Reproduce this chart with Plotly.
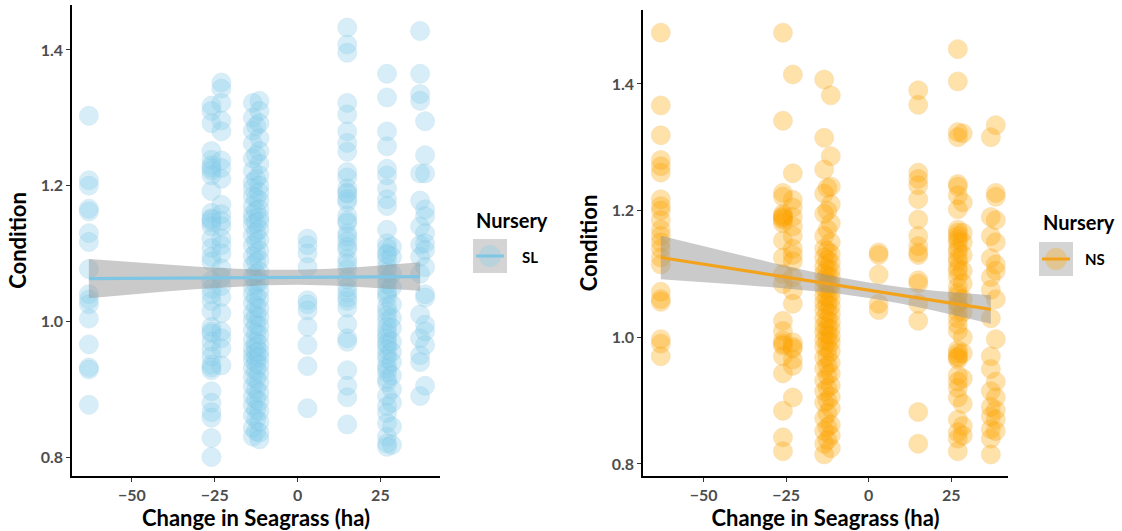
import plotly.graph_objects as go

# ---------------- data ----------------
# SL panel: Condition values per seagrass-change site
sl_m63 = [1.303, 1.208, 1.200, 1.166, 1.162, 1.130, 1.117, 1.077, 1.040, 1.032, 1.025, 1.004, 0.966, 0.932, 0.929, 0.877]
sl_m26 = [1.318, 1.310, 1.292, 1.251, 1.238, 1.230, 1.222, 1.215, 1.192, 1.160, 1.152, 1.146, 1.140, 1.122, 1.108,
          1.095, 1.088, 1.060, 1.048, 1.040, 1.030, 1.015, 0.992, 0.982, 0.970, 0.958, 0.948, 0.936, 0.928, 0.897,
          0.880, 0.866, 0.858, 0.828, 0.800, 1.226, 1.150, 0.985, 0.932]
sl_m23 = [1.352, 1.343, 1.322, 1.296, 1.280, 1.237, 1.226, 1.210, 1.172, 1.158, 1.148, 1.140, 1.122, 1.112, 1.100,
          1.078, 1.065, 1.052, 1.036, 1.012, 0.985, 0.975, 0.960, 0.935]
sl_m13 = [1.322, 1.300, 1.281, 1.262, 1.240, 1.222, 1.205, 1.196, 1.184, 1.170, 1.158, 1.151, 1.142, 1.127, 1.112,
          1.096, 1.083, 1.066, 1.051, 1.040, 1.027, 1.012, 1.001, 0.987, 0.972, 0.960, 0.951, 0.943, 0.931, 0.918,
          0.904, 0.889, 0.876, 0.861, 0.843, 0.830]
sl_m12 = [1.288, 1.245, 1.210, 1.182, 1.163, 1.145, 1.131, 1.117, 1.101, 1.087, 1.070, 1.055, 1.036, 1.022, 1.008,
          0.995, 0.983, 0.970, 0.962, 0.954, 0.946, 0.939, 0.928, 0.915, 0.900, 0.885, 0.870, 0.856, 0.838]
sl_m11 = [1.325, 1.310, 1.292, 1.270, 1.251, 1.232, 1.215, 1.200, 1.190, 1.178, 1.165, 1.153, 1.147, 1.135, 1.120,
          1.104, 1.090, 1.073, 1.058, 1.045, 1.033, 1.019, 1.006, 0.993, 0.980, 0.966, 0.955, 0.947, 0.936, 0.924,
          0.910, 0.895, 0.882, 0.868, 0.852, 0.836, 0.826]
sl_p3 = [1.122, 1.112, 1.100, 1.080, 1.031, 1.025, 1.016, 0.992, 0.965, 0.934, 0.872]
sl_p15 = [1.433, 1.408, 1.396, 1.322, 1.305, 1.280, 1.263, 1.250, 1.220, 1.212, 1.196, 1.188, 1.176, 1.156, 1.148,
          1.130, 1.118, 1.106, 1.092, 1.077, 1.062, 1.042, 1.030, 1.020, 0.996, 0.975, 0.970, 0.928, 0.905, 0.888, 0.848,
          1.190, 1.180, 1.145, 1.125, 1.110, 1.085, 1.050, 1.035]
sl_p27 = [1.365, 1.330, 1.280, 1.258, 1.225, 1.215, 1.196, 1.180, 1.170, 1.135, 1.115, 1.100, 1.090, 1.080, 1.062,
          1.040, 1.035, 1.015, 1.000, 0.985, 0.975, 0.965, 0.950, 0.935, 0.925, 0.910, 0.890, 0.875, 0.865, 0.850,
          0.830, 0.820, 0.815, 1.108, 1.098, 1.072, 1.055, 1.045, 1.022, 1.008, 0.992, 0.980, 0.968, 0.958, 0.945,
          0.930, 0.915]
sl_p28 = [1.110, 1.095, 1.070, 1.050, 1.025, 1.005, 0.990, 0.970, 0.955, 0.940, 0.920, 0.900, 0.880, 0.845, 0.818]
sl_p37 = [1.428, 1.365, 1.335, 1.325, 1.218, 1.178, 1.140, 1.113, 1.095, 1.070, 1.010, 0.975, 0.950, 0.940, 0.890]
sl_p39 = [1.295, 1.245, 1.218, 1.165, 1.155, 1.130, 1.115, 1.105, 1.080, 1.040, 1.035, 0.995, 0.985, 0.965, 0.905]

# NS panel
ns_m63 = [1.481, 1.366, 1.319, 1.280, 1.270, 1.260, 1.218, 1.207, 1.200, 1.185, 1.170, 1.160, 1.150, 1.140, 1.126,
          1.115, 1.072, 1.060, 1.056, 0.997, 0.990, 0.970]
ns_m26 = [1.481, 1.342, 1.228, 1.222, 1.195, 1.190, 1.185, 1.180, 1.153, 1.126, 1.100, 1.084, 1.026, 1.010, 0.990,
          0.987, 0.970, 0.943, 0.884, 0.842, 0.820, 1.192, 1.188, 0.995]
ns_m23 = [1.415, 1.259, 1.217, 1.205, 1.190, 1.175, 1.160, 1.140, 1.130, 1.120, 1.095, 1.074, 1.053, 0.992, 0.982,
          0.965, 0.955, 0.905, 0.985]
ns_m13 = [1.407, 1.315, 1.265, 1.227, 1.195, 1.160, 1.140, 1.126, 1.112, 1.101, 1.090, 1.078, 1.066, 1.055, 1.044,
          1.030, 1.018, 1.008, 0.996, 0.985, 0.968, 0.951, 0.932, 0.915, 0.897, 0.872, 0.852, 0.832, 0.815]
ns_m12 = [1.236, 1.200, 1.170, 1.137, 1.122, 1.108, 1.097, 1.086, 1.075, 1.063, 1.052, 1.040, 1.027, 1.015, 1.004,
          0.994, 0.982, 0.970, 0.955, 0.940, 0.920, 0.900, 0.880, 0.858, 0.838]
ns_m11 = [1.382, 1.286, 1.238, 1.210, 1.180, 1.150, 1.132, 1.118, 1.106, 1.095, 1.083, 1.071, 1.060, 1.049, 1.037,
          1.024, 1.013, 1.002, 0.992, 0.978, 0.960, 0.943, 0.924, 0.906, 0.888, 0.862, 0.845, 0.825]
ns_p3 = [1.134, 1.130, 1.099, 1.053, 1.043]
ns_p15 = [1.390, 1.367, 1.260, 1.250, 1.240, 1.218, 1.186, 1.160, 1.144, 1.134, 1.130, 1.090, 1.085, 1.053, 1.026,
          0.882, 0.832]
ns_p27 = [1.455, 1.404, 1.324, 1.316, 1.242, 1.238, 1.224, 1.202, 1.170, 1.160, 1.150, 1.140, 1.120, 1.110, 1.095,
          1.080, 1.070, 1.050, 1.030, 1.010, 0.980, 0.970, 0.965, 0.940, 0.920, 0.905, 0.870, 0.850, 0.840, 0.820,
          1.165, 1.155, 1.135, 1.125, 1.105, 1.065, 1.055, 1.040, 1.020, 0.975, 0.968, 0.930]
ns_p28 = [1.322, 1.213, 1.165, 1.150, 1.130, 1.105, 1.085, 1.060, 1.040, 1.000, 0.975, 0.935, 0.895, 0.860, 0.845]
ns_p37 = [1.316, 1.190, 1.160, 1.125, 1.095, 1.075, 1.030, 0.970, 0.950, 0.915, 0.890, 0.875, 0.855, 0.840, 0.815]
ns_p39 = [1.335, 1.228, 1.222, 1.185, 1.150, 1.115, 1.105, 1.060, 0.997, 0.930, 0.905, 0.885, 0.870, 0.852]

site_x = [-63, -26, -23, -13.5, -12.5, -11.5, 3, 15, 27, 28.5, 37, 38.5]
sl_cols = [sl_m63, sl_m26, sl_m23, sl_m13, sl_m12, sl_m11, sl_p3, sl_p15, sl_p27, sl_p28, sl_p37, sl_p39]
ns_cols = [ns_m63, ns_m26, ns_m23, ns_m13, ns_m12, ns_m11, ns_p3, ns_p15, ns_p27, ns_p28, ns_p37, ns_p39]

# fitted lines and 95% CI
fit_x = [-63, -50, -40, -30, -20, -10, 0, 10, 20, 30, 37]
sl_fit = [1.063, 1.0634, 1.0637, 1.064, 1.0643, 1.0646, 1.0649, 1.0652, 1.0655, 1.0658, 1.066]
sl_hi = [1.092, 1.0871, 1.0836, 1.0803, 1.0777, 1.076, 1.076, 1.0776, 1.0806, 1.0842, 1.087]
sl_lo = [1.034, 1.0397, 1.0438, 1.0477, 1.0509, 1.0532, 1.0538, 1.0528, 1.0504, 1.0474, 1.045]
ns_fit = [1.126, 1.1153, 1.1071, 1.0989, 1.0907, 1.0825, 1.0743, 1.0661, 1.0579, 1.0497, 1.044]
ns_hi = [1.1605, 1.1437, 1.1309, 1.1185, 1.1065, 1.0956, 1.0864, 1.0792, 1.0737, 1.0693, 1.0665]
ns_lo = [1.0915, 1.0869, 1.0833, 1.0793, 1.0749, 1.0694, 1.0622, 1.053, 1.0421, 1.0301, 1.0215]

x_ticks = [-50, -25, 0, 25]
y_ticks = [0.8, 1.0, 1.2, 1.4]

# ---------------- styles ----------------
W, H = 1122, 531
FONT = "Lato"
BLUE = "#87CEEB"
BLUE_LINE = "#7FC6E4"
ORANGE = "#FFA500"
ORANGE_LINE = "#F2A31B"

fig = go.Figure()


def add_panel(cols, fit, lo, hi, fill, edge, line_col, xa, ya):
    xs, ys = [], []
    for xv, col in zip(site_x, cols):
        xs += [xv] * len(col)
        ys += col
    fig.add_trace(go.Scatter(
        x=xs, y=ys, mode="markers", xaxis=xa, yaxis=ya, showlegend=False,
        marker=dict(size=19, color=fill, opacity=0.33,
                    line=dict(width=0.8, color=edge))))
    fig.add_trace(go.Scatter(
        x=fit_x + fit_x[::-1], y=hi + lo[::-1], mode="lines", fill="toself",
        fillcolor="rgba(150,150,150,0.5)", line=dict(width=0), xaxis=xa, yaxis=ya,
        showlegend=False, hoverinfo="skip"))
    fig.add_trace(go.Scatter(
        x=fit_x, y=fit, mode="lines", line=dict(color=line_col, width=3.2),
        xaxis=xa, yaxis=ya, showlegend=False))


add_panel(sl_cols, sl_fit, sl_lo, sl_hi, BLUE, "rgba(110,180,215,0.8)", BLUE_LINE, "x", "y")
add_panel(ns_cols, ns_fit, ns_lo, ns_hi, ORANGE, "rgba(230,150,0,0.8)", ORANGE_LINE, "x2", "y2")


def px(x):
    return x / W


def py(y):
    return 1 - y / H


axis_common = dict(
    showgrid=False, zeroline=False, showline=True, linecolor="black", linewidth=1.6,
    ticks="outside", ticklen=4, tickwidth=1.4, tickcolor="#333333",
    tickfont=dict(family=FONT, size=16, color="#4D4D4D", weight="bold"),
    automargin=False,
)
title_font = dict(family=FONT, size=22, color="black", weight="bold")

fig.update_layout(
    width=W, height=H,
    margin=dict(l=0, r=0, t=0, b=0),
    paper_bgcolor="white", plot_bgcolor="white",
    showlegend=False,
    xaxis=dict(axis_common, domain=[px(72), px(440)], range=[-68.1, 43.0], tickvals=x_ticks,
               anchor="y",
               title=dict(text="Change in Seagrass (ha)", standoff=2, font=title_font)),
    yaxis=dict(axis_common, domain=[py(476), py(5)], range=[0.772, 1.4663], tickvals=y_ticks,
               tickformat=".1f", anchor="x",
               title=dict(text="Condition", standoff=8, font=title_font)),
    xaxis2=dict(axis_common, domain=[px(643), px(1008)], range=[-68.4, 42.2], tickvals=x_ticks,
                anchor="y2",
                title=dict(text="Change in Seagrass (ha)", standoff=2, font=title_font)),
    yaxis2=dict(axis_common, domain=[py(476), py(10)], range=[0.781, 1.5168], tickvals=y_ticks,
                tickformat=".1f", anchor="x2",
                title=dict(text="Condition", standoff=8, font=title_font)),
)

# ---------------- legends (drawn keys + real text) ----------------
legends = [
    dict(title_x=474, title_y=220, box=(473, 239, 507, 273), label="SL", label_x=520, label_y=257,
         fill="rgba(135,206,235,0.35)", line=BLUE_LINE),
    dict(title_x=1041, title_y=222, box=(1039, 242, 1073, 276), label="NS", label_x=1083, label_y=259,
         fill="rgba(255,165,0,0.30)", line=ORANGE_LINE),
]
for lg in legends:
    x0, y0, x1, y1 = lg["box"]
    cx, cy = (x0 + x1) / 2, (y0 + y1) / 2
    fig.add_shape(type="rect", xref="paper", yref="paper", x0=px(x0), x1=px(x1), y0=py(y1), y1=py(y0),
                  fillcolor="#D4D4D4", line=dict(width=0), layer="above")
    r = 11
    fig.add_shape(type="circle", xref="paper", yref="paper", x0=px(cx - r), x1=px(cx + r),
                  y0=py(cy + r), y1=py(cy - r), fillcolor=lg["fill"], line=dict(width=0), layer="above")
    fig.add_shape(type="line", xref="paper", yref="paper", x0=px(x0 + 3), x1=px(x1 - 3),
                  y0=py(cy), y1=py(cy), line=dict(color=lg["line"], width=3), layer="above")
    fig.add_annotation(xref="paper", yref="paper", x=px(lg["title_x"]), y=py(lg["title_y"]),
                       xanchor="left", yanchor="middle", showarrow=False, text="Nursery",
                       font=dict(family=FONT, size=20, color="black", weight="bold"))
    fig.add_annotation(xref="paper", yref="paper", x=px(lg["label_x"]), y=py(lg["label_y"]),
                       xanchor="left", yanchor="middle", showarrow=False, text=lg["label"],
                       font=dict(family=FONT, size=15, color="black", weight="bold"))

fig.write_html("out.html")
